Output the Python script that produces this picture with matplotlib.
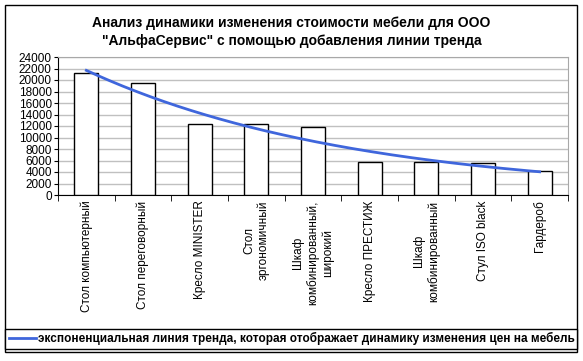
import numpy as np
import matplotlib
matplotlib.use('Agg')
import matplotlib.pyplot as plt
from matplotlib.patches import Rectangle

# ------------------- Data ------------------- #
categories = ['Стол компьютерный', 'Стол переговорный', 'Кресло MINISTER',
              'Стол\nэргономичный', 'Шкаф\nкомбинированный,\nширокий',
              'Кресло ПРЕСТИЖ', 'Шкаф\nкомбинированный', 'Стул ISO black',
              'Гардероб']
prices = [21200, 19400, 12300, 12300, 11800, 5700, 5700, 5600, 4100]
y_ticks = list(range(0, 24001, 2000))

title = ('Анализ динамики изменения стоимости мебели для ООО\n'
         '"АльфаСервис" с помощью добавления линии тренда')
legend_label = ('экспоненциальная линия тренда, которая отображает '
                'динамику изменения цен на мебель')

plt.rcParams['font.family'] = ['Liberation Sans', 'DejaVu Sans']

# ------------------- Trend (exponential fit) ------------------- #
x = np.arange(1, len(prices) + 1)
slope, intercept = np.polyfit(x, np.log(prices), 1)
x_fit = np.linspace(1, len(prices), 200)
y_fit = np.exp(intercept + slope * x_fit)

# ------------------- Figure ------------------- #
W, H = 583, 361
fig = plt.figure(figsize=(W / 100, H / 100), dpi=100)
ax = fig.add_axes([58 / W, (H - 195) / H, 510 / W, 138 / H])

ax.bar(x, prices, width=0.42, color='white', edgecolor='black', linewidth=1, zorder=3)
trend, = ax.plot(x_fit, y_fit, color='#3f66dc', lw=2, zorder=4)

ax.set_xlim(0.5, len(prices) + 0.5)
ax.set_ylim(0, 24000)
ax.set_yticks(y_ticks)
ax.set_yticklabels([str(v) for v in y_ticks], fontsize=8.5)
ax.yaxis.grid(True, color='#c0c0c0', lw=1, zorder=0)

ax.set_xticks(x)
ax.set_xticklabels(categories, rotation=90, va='top', ha='center',
                   multialignment='center', fontsize=8.5)
ax.set_xticks(np.arange(0.5, len(prices) + 1), minor=True)
ax.tick_params(axis='x', which='major', length=0, pad=4)
ax.tick_params(axis='x', which='minor', length=4, direction='out', color='black')
ax.tick_params(axis='y', length=3, direction='out', pad=1.5)

for side in ['left', 'bottom']:
    ax.spines[side].set_color('black')
for side in ['top', 'right']:
    ax.spines[side].set_color('#a8a8a8')

fig.text(0.5, 1 - 32 / H, title, ha='center', va='center', fontsize=10,
         fontweight='bold', linespacing=1.35)

# outer frame
fig.patches.append(Rectangle((5 / W, (H - 352) / H), 572 / W, 347 / H,
                             transform=fig.transFigure, fill=False,
                             edgecolor='black', lw=1))

leg = fig.legend([trend], [legend_label], loc='lower left', mode='expand',
                 bbox_to_anchor=(5 / W, (H - 349) / H, 572 / W, 21 / H),
                 borderaxespad=0, fancybox=False, edgecolor='black',
                 framealpha=1, prop={'weight': 'bold', 'size': 8.5},
                 handlelength=2.3, handletextpad=0.2, borderpad=0.3)
leg.get_frame().set_linewidth(1)

fig.savefig('out.png', dpi=100)
